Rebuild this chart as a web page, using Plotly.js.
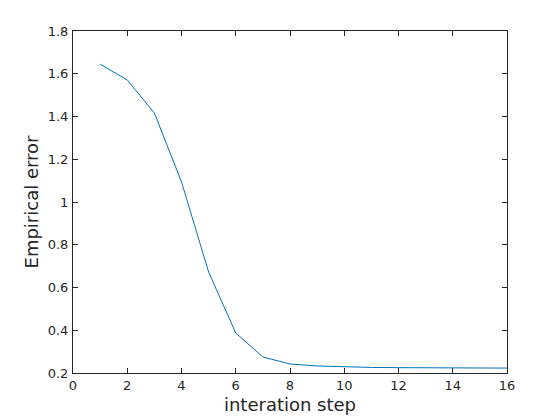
<!DOCTYPE html>
<html>
<head>
<script src="https://cdn.plot.ly/plotly-3.0.1.min.js"></script>
<style>html,body{margin:0;padding:0;background:#fff}</style>
</head>
<body>
<div id="plot" style="width:560px;height:420px"></div>
<script>
const steps = [1,2,3,4,5,6,7,8,9,10,11,12,13,14,15,16];
const errors = [1.645,1.571,1.416,1.094,0.672,0.387,0.275,0.242,0.233,0.228,0.226,0.225,0.224,0.224,0.223,0.223];
const xTicks = [0,2,4,6,8,10,12,14,16];
const yTicks = [0.2,0.4,0.6,0.8,1,1.2,1.4,1.6,1.8];
const yTickText = ['0.2','0.4','0.6','0.8','1','1.2','1.4','1.6','1.8'];

const axisCommon = {
  showgrid:false, zeroline:false, showline:true, linecolor:'#262626', linewidth:1,
  mirror:'ticks', ticks:'inside', ticklen:5, tickcolor:'#262626', tickwidth:1,
  tickfont:{family:'DejaVu Sans', size:13, color:'#262626'}
};
Plotly.newPlot('plot', [{
  x: steps, y: errors, type:'scatter', mode:'lines',
  line:{color:'#0072BD', width:1}
}], {
  width:560, height:420,
  margin:{l:73, r:53, t:31, b:47},
  paper_bgcolor:'#fff', plot_bgcolor:'#fff',
  showlegend:false,
  xaxis: Object.assign({}, axisCommon, {range:[0,16], tickvals:xTicks,
    title:{text:'interation step', font:{family:'DejaVu Sans', size:18, color:'#262626'}, standoff:6}}),
  yaxis: Object.assign({}, axisCommon, {range:[0.2,1.8], tickvals:yTicks, ticktext:yTickText, ticklabelstandoff:1,
    title:{text:'Empirical error', font:{family:'DejaVu Sans', size:18, color:'#262626'}, standoff:4}})
}, {staticPlot:true});
</script>
</body>
</html>
